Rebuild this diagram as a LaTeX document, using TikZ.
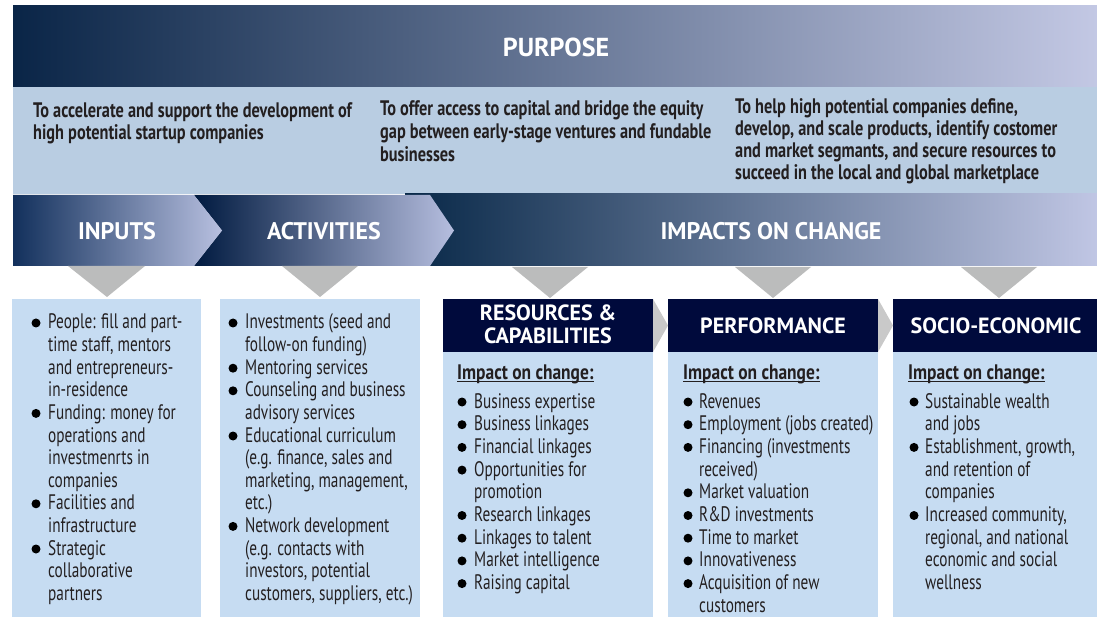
\documentclass[tikz,border=0pt]{standalone}
\usepackage{fontspec}
\setmainfont{PT Sans}[FakeStretch=0.727]
\newfontfamily\purpf{PT Sans}[FakeStretch=0.776]
\newfontfamily\impf{PT Sans}[FakeStretch=0.83]
\newfontfamily\labf{PT Sans}
\definecolor{bannerL}{HTML}{0A2547}
\definecolor{bannerM}{HTML}{1A3A5F}
\definecolor{bannerR}{HTML}{C3C8E4}
\definecolor{purpbg}{HTML}{B9CDE2}
\definecolor{boxc}{HTML}{C6DCF2}
\definecolor{hdrc}{HTML}{000A3C}
\definecolor{trig}{HTML}{BBBCBC}
\definecolor{chevg}{HTML}{C9C9C9}
\definecolor{txtc}{HTML}{231F20}
\definecolor{inL}{HTML}{12305C}
\definecolor{inR}{HTML}{B8C0E0}
\definecolor{acL}{HTML}{001A40}
\definecolor{acR}{HTML}{B6BEDF}
\definecolor{imL}{HTML}{082848}
\definecolor{imM}{HTML}{26425F}
\definecolor{imR}{HTML}{C0C6E4}
\tikzset{
  body/.style={inner sep=0pt, text=txtc, font=\fontsize{21}{22}\selectfont},
  purps/.style={inner sep=0pt, text=txtc, font=\purpf\fontsize{21}{22}\selectfont\bfseries},
  imps/.style={inner sep=0pt, text=txtc, font=\impf\fontsize{21}{22}\selectfont\bfseries},
  lab/.style={inner sep=0pt, text=white, font=\labf\fontsize{24}{25}\selectfont\bfseries},
  biglab/.style={inner sep=0pt, text=white, font=\labf\fontsize{26}{27}\selectfont\bfseries},
  hlab/.style={inner sep=0pt, text=white, font=\labf\fontsize{22}{23}\selectfont\bfseries},
  bul/.style={fill=black},
  boxs/.style={fill=boxc},
  hdrs/.style={fill=hdrc},
  tris/.style={fill=trig},
  chevs/.style={fill=chevg},
}
\newcommand\txtcol[5]{%
  \foreach \t [count=\i] in {#5} {\node[body, anchor=base west] (#1\i) at (#2, {#3+(\i-1)*#4}) {\t};}}
\newcommand\bulcol[4]{%
  \foreach \i in {#4} {\fill[bul] (#1, {#2+(\i-1)*#3-6}) circle (4.5pt);}}
\begin{document}
\begin{tikzpicture}[x=1pt,y=-1pt]
\useasboundingbox (0,0) rectangle (1097,617);
\fill[white] (0,0) rectangle (1097,617);
% purpose banner
\shade[left color=bannerL, middle color=bannerM, right color=bannerR] (13,6) rectangle (1097,87);
\node[biglab] (purpose) at (556,47) {PURPOSE};
\fill[purpbg] (13,87) rectangle (1097,194);
\node[purps, anchor=base west] (p11) at (33,118) {To accelerate and support the development of};
\node[purps, anchor=base west] (p12) at (33,140) {high potential startup companies};
\node[purps, anchor=base west] (p21) at (380,116) {To offer access to capital and bridge the equity};
\node[purps, anchor=base west] (p22) at (380,139) {gap between early-stage ventures and fundable};
\node[purps, anchor=base west] (p23) at (380,162) {businesses};
\node[purps, anchor=base west] (p31) at (735,114) {To help high potential companies define,};
\node[purps, anchor=base west] (p32) at (735,136) {develop, and scale products, identify costomer};
\node[purps, anchor=base west] (p33) at (735,158) {and market segmants, and secure resources to};
\node[purps, anchor=base west] (p34) at (735,180) {succeed in the local and global marketplace};
% arrow row
\shade[left color=imL, middle color=imM, right color=imR] (405,194) rectangle (1097,266);
\shade[left color=acL, right color=acR] (194,195) -- (430,195) -- (454,230.5) -- (430,266) -- (194,266) -- (222,230.5) -- cycle;
\shade[left color=inL, right color=inR] (13,195) -- (194,195) -- (222,230.5) -- (194,266) -- (13,266) -- cycle;
\node[lab] (inputs) at (117,231) {INPUTS};
\node[lab] (activities) at (324,231) {ACTIVITIES};
\node[lab] (impacts) at (771,231) {IMPACTS ON CHANGE};
% down triangles
\fill[tris] (68,266) -- (145,266) -- (107,297) -- cycle;
\fill[tris] (282,266) -- (358,266) -- (320,297) -- cycle;
\fill[tris] (512,267) -- (588,267) -- (550,298) -- cycle;
\fill[tris] (735,267) -- (811,267) -- (773,298) -- cycle;
\fill[tris] (961,267) -- (1037,267) -- (999,298) -- cycle;
% boxes
\fill[boxs] (12,299) rectangle (201,617);
\fill[boxs] (220,299) rectangle (420,617);
\fill[boxs] (443,299) rectangle (653,617);
\fill[boxs] (668,299) rectangle (878,617);
\fill[boxs] (893,299) rectangle (1097,617);
\fill[hdrs] (443,299) rectangle (653,352);
\fill[hdrs] (668,299) rectangle (878,352);
\fill[hdrs] (893,299) rectangle (1097,352);
\fill[chevs] (653,299) -- (668,325.5) -- (653,352) -- cycle;
\fill[chevs] (878,299) -- (893,325.5) -- (878,352) -- cycle;
\node[hlab] (rc1) at (548,313) {RESOURCES \&};
\node[hlab] (rc2) at (548,336) {CAPABILITIES};
\node[hlab] (perf) at (773,325.5) {PERFORMANCE};
\node[hlab] (socio) at (996,325.5) {SOCIO-ECONOMIC};
% impact on change headings
\node[imps, anchor=base west] (imp1) at (457,379) {Impact on change:};
\node[imps, anchor=base west] (imp2) at (683,379) {Impact on change:};
\node[imps, anchor=base west] (imp3) at (908,379) {Impact on change:};
\foreach \n in {imp1,imp2,imp3}
  \draw[txtc, line width=1.3pt] ([yshift=-2.5pt]\n.base west) -- ([yshift=-2.5pt]\n.base east);
% lists
\txtcol{in}{48}{329}{22.6}{{People: fill and part-},{time staff, mentors},{and entrepreneurs-},{in-residence},{Funding: money for},{operations and},{investmenrts in},{companies},{Facilities and},{infrastructure},{Strategic},{collaborative},{partners}}
\bulcol{36}{329}{22.6}{1,5,9,11}
\txtcol{ac}{245}{329}{22.6}{{Investments (seed and},{follow-on funding)},{Mentoring services},{Counseling and business},{advisory services},{Educational curriculum},{(e.g. finance, sales and},{marketing, management,},{etc.)},{Network development},{(e.g. contacts with},{investors, potential},{customers, suppliers, etc.)}}
\bulcol{233}{329}{22.6}{1,3,4,6,10}
\txtcol{rc}{474}{408}{22.7}{{Business expertise},{Business linkages},{Financial linkages},{Opportunities for},{promotion},{Research linkages},{Linkages to talent},{Market intelligence},{Raising capital}}
\bulcol{462}{408}{22.7}{1,2,3,4,6,7,8,9}
\txtcol{pf}{699}{408}{22.7}{{Revenues},{Employment (jobs created)},{Financing (investments},{received)},{Market valuation},{R\&D investments},{Time to market},{Innovativeness},{Acquisition of new},{customers}}
\bulcol{688}{408}{22.7}{1,2,3,5,6,7,8,9}
\txtcol{se}{925}{408}{22.7}{{Sustainable wealth},{and jobs},{Establishment, growth,},{and retention of},{companies},{Increased community,},{regional, and national},{economic and social},{wellness}}
\bulcol{914}{408}{22.7}{1,3,6}
\end{tikzpicture}
\end{document}
